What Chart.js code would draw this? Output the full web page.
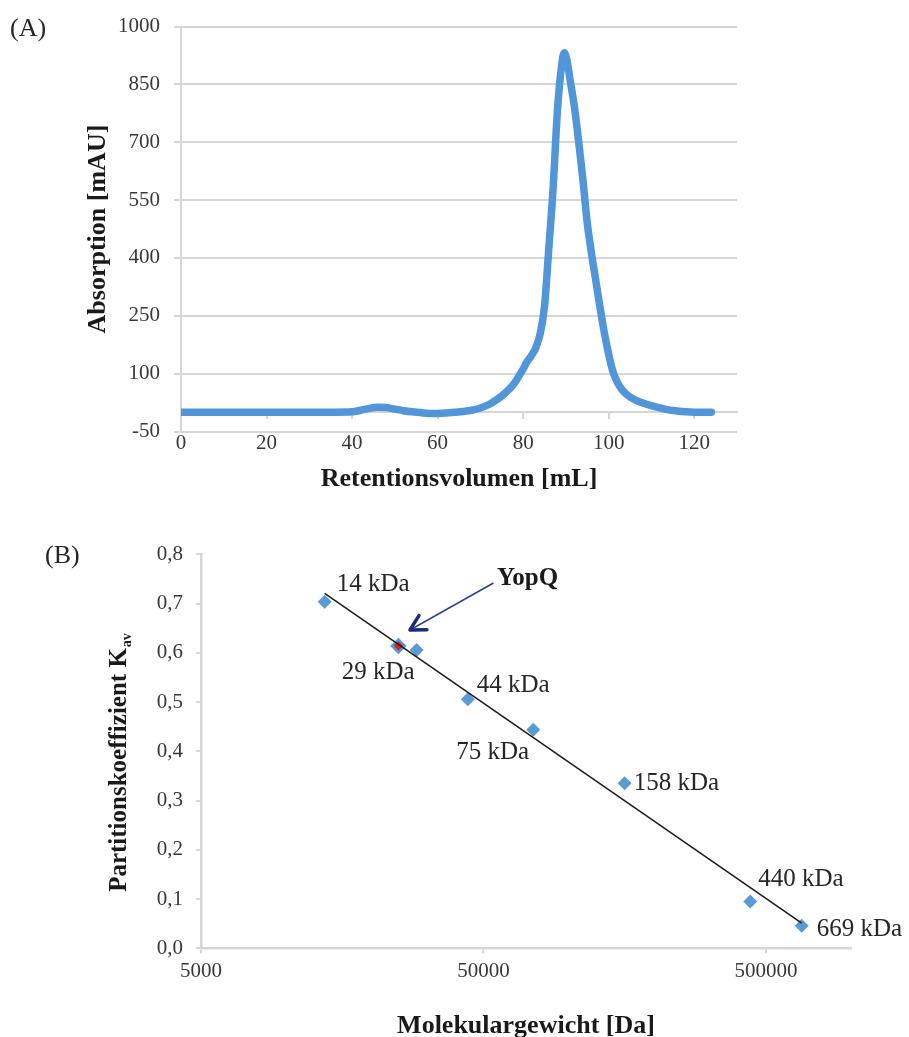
<!DOCTYPE html>
<html><head><meta charset="utf-8">
<script src="https://cdn.jsdelivr.net/npm/chart.js@4.4.1/dist/chart.umd.min.js"></script>
<style>
html,body{margin:0;padding:0;background:#fff;}
#wrap{position:relative;width:909px;height:1037px;overflow:hidden;background:#fff;}
canvas{position:absolute;left:0;}
#cA{top:0;} #cB{top:500px;}
</style></head><body>
<div id="wrap"><canvas id="cA" width="909" height="500"></canvas><canvas id="cB" width="909" height="537"></canvas></div>
<script>
// ---------- Panel A: chromatogram ----------
const retentionVolume = [0, 10, 20, 30, 36, 40, 42, 44, 46, 48, 50, 52, 54, 56, 58, 60, 62, 64, 66, 68, 70, 72, 74, 76, 78, 80, 81, 82, 83, 84, 85, 86, 87, 88, 89, 89.6, 90.2, 91, 92, 93, 94, 95, 96, 97, 98, 99, 100, 101, 102, 103, 104, 106, 108, 110, 112, 114, 116, 118, 120, 122, 124];
const absorption = [0, 0, 0, 0, 0, 1, 5, 10, 13, 12, 8, 4, 1, -1, -3, -3, -2, 0, 2, 5, 11, 20, 34, 52, 76, 112, 132, 148, 168, 205, 275, 425, 580, 780, 900, 932, 915, 860, 790, 700, 600, 490, 410, 340, 270, 205, 150, 105, 78, 60, 48, 33, 24, 17, 11, 6, 3, 1, 0, 0, 0];
const volumeTicks = [0, 20, 40, 60, 80, 100, 120];
const absorptionTicks = [-50, 100, 250, 400, 550, 700, 850, 1000];

// ---------- Panel B: calibration ----------
const standardLabels = ['14 kDa', '29 kDa', '44 kDa', '75 kDa', '158 kDa', '440 kDa', '669 kDa'];
const standardMass = [13700, 29000, 44000, 75000, 158000, 440000, 669000];
const standardKav = [0.704, 0.606, 0.506, 0.444, 0.335, 0.095, 0.046];
const yopqLabel = 'YopQ';
const yopqMass = [25000];
const yopqKav = [0.614];
const trendMass = [13700, 669000];
const trendKav = [0.721, 0.051];
const massTicks = [5000, 50000, 500000];
const kavTicks = [0, 0.1, 0.2, 0.3, 0.4, 0.5, 0.6, 0.7, 0.8];

const FONT = '"Liberation Serif", "Times New Roman", serif';
Chart.defaults.font.family = FONT;
Chart.defaults.color = '#3a3a3a';
const gridGray = '#d6d6d6';
const tickColor = '#383838';
const titleColor = '#1a1a1a';

function panelLabel(text, x, y) {
  return { id: 'panel' + text, afterDraw(chart) {
    const ctx = chart.ctx; ctx.save();
    ctx.font = '26px ' + FONT; ctx.fillStyle = '#262626';
    ctx.textAlign = 'left'; ctx.textBaseline = 'middle';
    ctx.fillText(text, x, y); ctx.restore();
  }};
}

new Chart(document.getElementById('cA'), {
  type: 'line',
  data: { datasets: [{
    data: retentionVolume.map((v, i) => ({ x: v, y: absorption[i] })),
    borderColor: '#5096d8', borderWidth: 7.5, pointRadius: 0,
    cubicInterpolationMode: 'monotone', borderCapStyle: 'round', borderJoinStyle: 'round', fill: false
  }]},
  options: {
    responsive: false, animation: false, events: [],
    layout: { padding: { left: 0, top: 25, right: 172, bottom: 0 } },
    plugins: { legend: { display: false }, tooltip: { enabled: false } },
    scales: {
      x: { type: 'linear', position: 'bottom', min: 0, max: 130,
        afterBuildTicks: s => { s.ticks = volumeTicks.map(v => ({ value: v })); },
        afterFit: s => { s.height = 68.5; },
        grid: { display: false, drawTicks: false }, border: { display: false },
        ticks: { padding: -1, font: { size: 21 }, color: tickColor, maxRotation: 0, autoSkip: false, callback: v => String(v) },
        title: { display: true, text: 'Retentionsvolumen [mL]', font: { size: 26, weight: 'bold' }, color: titleColor, padding: { top: 0, bottom: 5 } } },
      x2: { type: 'linear', axis: 'x', position: { y: 0 }, min: 0, max: 130,
        afterBuildTicks: s => { s.ticks = volumeTicks.map(v => ({ value: v })); },
        grid: { display: true, drawOnChartArea: false, drawTicks: true, tickLength: 6, color: gridGray, lineWidth: 2 },
        border: { display: true, color: gridGray, width: 2 },
        ticks: { display: false } },
      y: { type: 'linear', position: 'left', min: -50, max: 1000,
        afterBuildTicks: s => { s.ticks = absorptionTicks.map(v => ({ value: v })); },
        afterFit: s => { s.width = 181; },
        grid: { color: gridGray, lineWidth: 2, tickLength: 7, drawTicks: true },
        border: { display: true, color: gridGray, width: 2 },
        ticks: { padding: 14, font: { size: 21 }, color: tickColor, callback: v => String(v) },
        title: { display: true, text: 'Absorption [mAU]', font: { size: 26, weight: 'bold' }, color: titleColor, padding: { top: 83, bottom: 0 } } }
    }
  },
  plugins: [panelLabel('(A)', 10, 29)]
});

const labelOffsets = [[12, -17], [-75, 23], [9, -14], [-77, 23], [9, 0], [8, -22], [15, 4]];

const annotB = {
  id: 'annotB',
  afterDatasetsDraw(chart) {
    const { ctx, scales: { x, y } } = chart;
    ctx.save();
    ctx.font = '25px ' + FONT; ctx.fillStyle = '#262626';
    ctx.textBaseline = 'middle'; ctx.textAlign = 'left';
    standardLabels.forEach((t, i) => {
      const px = x.getPixelForValue(standardMass[i]), py = y.getPixelForValue(standardKav[i]);
      ctx.fillText(t, px + labelOffsets[i][0], py + labelOffsets[i][1]);
    });
    // arrow to YopQ
    const ax = x.getPixelForValue(yopqMass[0]), ay = y.getPixelForValue(yopqKav[0]);
    const tipX = ax + 11.5, tipY = ay - 16, tailX = ax + 95, tailY = ay - 63;
    ctx.strokeStyle = '#34418a'; ctx.lineWidth = 1.6;
    ctx.beginPath(); ctx.moveTo(tailX, tailY); ctx.lineTo(tipX, tipY); ctx.stroke();
    const ang = Math.atan2(tailY - tipY, tailX - tipX);
    ctx.strokeStyle = '#1c2878'; ctx.lineWidth = 3.4; ctx.lineCap = 'round'; ctx.lineJoin = 'round';
    ctx.beginPath();
    ctx.moveTo(tipX + 17 * Math.cos(ang - 0.5), tipY + 17 * Math.sin(ang - 0.5));
    ctx.lineTo(tipX, tipY);
    ctx.lineTo(tipX + 17 * Math.cos(ang + 0.5), tipY + 17 * Math.sin(ang + 0.5));
    ctx.stroke();
    ctx.font = 'bold 25px ' + FONT; ctx.fillStyle = '#1a1a1a';
    ctx.fillText(yopqLabel, ax + 98.5, ay - 67);
    // y-axis title with subscript
    const mainT = 'Partitionskoeffizient K', subT = 'av';
    ctx.font = 'bold 25px ' + FONT; const w1 = ctx.measureText(mainT).width;
    ctx.font = 'bold 14px ' + FONT; const w2 = ctx.measureText(subT).width;
    const cy = 263;
    ctx.translate(126, cy + (w1 + w2) / 2); ctx.rotate(-Math.PI / 2);
    ctx.textBaseline = 'alphabetic'; ctx.fillStyle = titleColor;
    ctx.font = 'bold 25px ' + FONT; ctx.fillText(mainT, 0, 0);
    ctx.font = 'bold 14px ' + FONT; ctx.fillText(subT, w1 + 1, 5);
    ctx.restore();
  }
};

new Chart(document.getElementById('cB'), {
  type: 'scatter',
  data: { datasets: [
    { label: 'Trend', data: trendMass.map((v, i) => ({ x: v, y: trendKav[i] })), showLine: true,
      borderColor: '#1e1e1e', borderWidth: 1.6, pointRadius: 0, order: 0 },
    { label: yopqLabel, data: yopqMass.map((v, i) => ({ x: v, y: yopqKav[i] })), pointStyle: 'rectRot',
      pointRadius: 6.5, backgroundColor: '#c8272d', borderColor: '#5b9bd5', borderWidth: 2.5, order: 1 },
    { label: 'Standards', data: standardMass.map((v, i) => ({ x: v, y: standardKav[i] })), pointStyle: 'rectRot',
      pointRadius: 7, backgroundColor: '#5b9bd5', borderColor: '#5b9bd5', borderWidth: 0, order: 2 }
  ]},
  options: {
    responsive: false, animation: false, events: [],
    layout: { padding: { left: 0, top: 54.4, right: 58, bottom: 0 } },
    plugins: { legend: { display: false }, tooltip: { enabled: false } },
    scales: {
      x: { type: 'logarithmic', position: 'bottom', min: 5000, max: 1000000,
        afterBuildTicks: s => { s.ticks = massTicks.map(v => ({ value: v })); },
        afterFit: s => { s.height = 88.7; },
        grid: { display: true, drawOnChartArea: false, drawTicks: true, tickLength: 5, color: gridGray, lineWidth: 2 },
        border: { display: true, color: gridGray, width: 2.5 },
        ticks: { padding: 6, font: { size: 21 }, color: tickColor, autoSkip: false, maxRotation: 0, callback: v => String(v) },
        title: { display: true, text: 'Molekulargewicht [Da]', font: { size: 26, weight: 'bold' }, color: titleColor, padding: { top: 0, bottom: -5 } } },
      y: { type: 'linear', position: 'left', min: 0, max: 0.8,
        afterBuildTicks: s => { s.ticks = kavTicks.map(v => ({ value: v })); },
        afterFit: s => { s.width = 201; },
        grid: { display: true, drawOnChartArea: false, drawTicks: true, tickLength: 5, color: gridGray, lineWidth: 2 },
        border: { display: true, color: gridGray, width: 2.5 },
        ticks: { padding: 13, font: { size: 21 }, color: tickColor, callback: v => v.toFixed(1).replace('.', ',') } }
    }
  },
  plugins: [annotB, panelLabel('(B)', 45, 56)]
});
</script>
</body></html>
